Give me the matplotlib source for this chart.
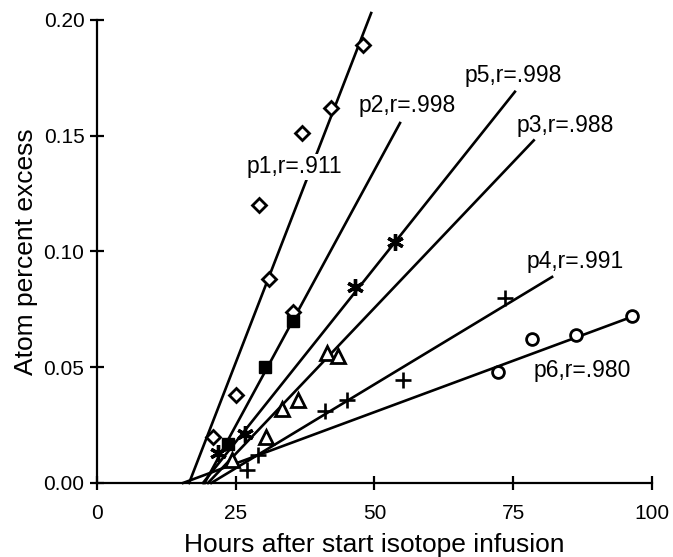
import numpy as np
import matplotlib
matplotlib.use("Agg")
import matplotlib.pyplot as plt

plt.rcParams['font.family'] = ['Liberation Sans', 'DejaVu Sans']

# points (hours, atom percent excess)
p1_x = [20.9, 25.0, 29.2, 31.0, 35.3, 36.9, 42.2, 47.9]
p1_y = [0.020, 0.038, 0.120, 0.088, 0.074, 0.151, 0.162, 0.189]
p2_x = [23.6, 30.3, 35.3]
p2_y = [0.017, 0.050, 0.070]
p3_x = [24.3, 30.5, 33.3, 36.2, 41.4, 43.4]
p3_y = [0.010, 0.020, 0.032, 0.036, 0.056, 0.055]
p4_x = [27.0, 29.0, 41.1, 45.0, 55.2, 73.5]
p4_y = [0.0056, 0.012, 0.031, 0.036, 0.0445, 0.080]
p5_x = [21.8, 26.7, 46.5, 53.7]
p5_y = [0.013, 0.021, 0.0847, 0.104]
p6_x = [72.3, 78.4, 86.3, 96.4]
p6_y = [0.048, 0.062, 0.064, 0.072]

# fitted lines: start on the x axis, end point
line_x0 = [16.6, 19.4, 20.0, 20.6, 19.1, 15.5]
line_x1 = [49.4, 54.6, 78.7, 82.0, 75.3, 97.3]
line_y1 = [0.203, 0.1555, 0.148, 0.089, 0.169, 0.0726]

labels = ["p1,r=.911", "p2,r=.998", "p3,r=.988", "p4,r=.991", "p5,r=.998", "p6,r=.980"]
label_x = [35.5, 55.9, 84.3, 86.1, 75.0, 87.5]
label_y = [0.1365, 0.163, 0.1546, 0.0955, 0.176, 0.0488]

fig = plt.figure(figsize=(6.73, 5.57), dpi=100)
ax = fig.add_axes([0.1441, 0.1329, 0.8247, 0.8312])

# regression lines
for i in range(6):
    ax.plot([line_x0[i], line_x1[i]], [0, line_y1[i]], color='black', lw=1.9,
            clip_on=False, zorder=2)

# data points
mk = dict(color='black', linestyle='none', clip_on=False, zorder=3)
ax.plot(p1_x, p1_y, marker='D', ms=7, mfc='white', mew=2, **mk)
ax.plot(p2_x, p2_y, marker='s', ms=8.5, mfc='black', **mk)
ax.plot(p3_x, p3_y, marker='^', ms=10, mfc='white', mew=2, **mk)
ax.plot(p4_x, p4_y, marker='+', ms=12, mew=1.9, **mk)
ax.plot(p5_x, p5_y, marker=(6, 2, 0), ms=12, mew=2.4, **mk)
ax.plot(p6_x, p6_y, marker='o', ms=8.5, mfc='white', mew=2, **mk)

# labels with white background
for i in range(6):
    ax.text(label_x[i], label_y[i], labels[i], fontsize=16.5, ha='center', va='center',
            bbox=dict(facecolor='white', edgecolor='none', pad=1), zorder=4)

ax.set_xlim(0, 100)
ax.set_ylim(0, 0.20)
ax.set_xticks([0, 25, 50, 75, 100])
ax.set_yticks([0.0, 0.05, 0.10, 0.15, 0.20])
ax.set_yticklabels(["0.00", "0.05", "0.10", "0.15", "0.20"])
ax.spines['top'].set_visible(False)
ax.spines['right'].set_visible(False)
ax.spines['left'].set_linewidth(1.6)
ax.spines['bottom'].set_linewidth(1.6)
ax.tick_params(direction='inout', length=10, width=1.6, labelsize=15, pad=4)
ax.tick_params(axis='x', pad=10)

ax.set_xlabel("Hours after start isotope infusion", fontsize=19, labelpad=7)
ax.set_ylabel("Atom percent excess", fontsize=19, labelpad=4)

fig.savefig("out.png", dpi=100)
